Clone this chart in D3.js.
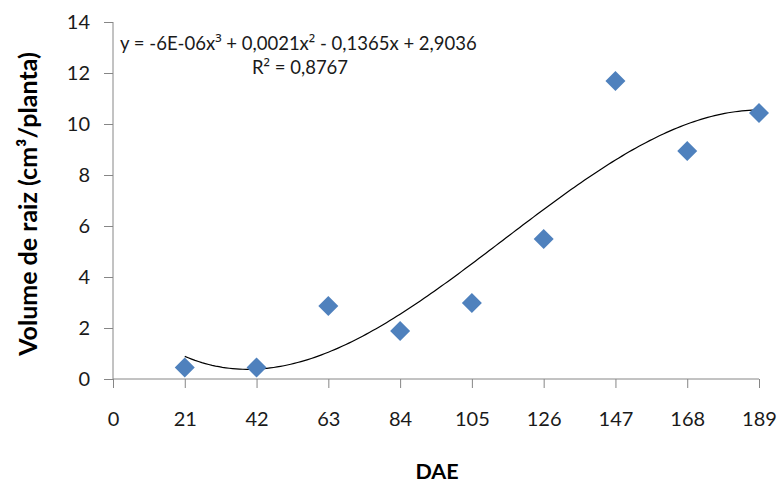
<!DOCTYPE html>
<html>
<head>
<meta charset="utf-8">
<script src="https://cdn.jsdelivr.net/npm/d3@7"></script>
<style>
  body { margin: 0; background: #fff; }
  text { font-family: Lato, "Open Sans", sans-serif; }
</style>
</head>
<body>
<div id="chart"></div>
<script>
// DAE (days) and root volume values
var dae = [21, 42, 63, 84, 105, 126, 147, 168, 189];
var volume = [0.45, 0.45, 2.86, 1.88, 2.98, 5.49, 11.69, 8.94, 10.43];
var xTicks = [0, 21, 42, 63, 84, 105, 126, 147, 168, 189];
var yTicks = [0, 2, 4, 6, 8, 10, 12, 14];
var equationText = "y = -6E-06x³ + 0,0021x² - 0,1365x + 2,9036";
var r2Text = "R² = 0,8767";

var width = 782, height = 486;
var svg = d3.select("#chart").append("svg")
    .attr("width", width)
    .attr("height", height);

var x = d3.scaleLinear().domain([0, 189]).range([113, 759]);
var y = d3.scaleLinear().domain([0, 14]).range([379, 22]);
var axisColor = "#868686";

// y axis
var yAxis = svg.append("g")
    .attr("transform", "translate(" + x(0) + ",0)")
    .call(d3.axisLeft(y).tickValues(yTicks).tickSize(9).tickPadding(14));
// x axis
var xAxis = svg.append("g")
    .attr("transform", "translate(0," + y(0) + ")")
    .call(d3.axisBottom(x).tickValues(xTicks).tickSize(9).tickPadding(24));

[yAxis, xAxis].forEach(function(a) {
  a.select(".domain").attr("stroke", axisColor).attr("stroke-width", 1);
  a.selectAll(".tick line").attr("stroke", axisColor);
  a.selectAll(".tick text")
    .attr("fill", "#1a1a1a")
    .style("font-size", "20px")
    .style("font-family", "Lato, 'Open Sans', sans-serif");
});
xAxis.select(".domain").attr("d", "M" + x(0) + ",0H" + x(189));
yAxis.select(".domain").attr("d", "M0," + y(0) + "V" + y(14));

// least squares cubic trend line
function polyfit(xs, ys, deg) {
  var n = deg + 1;
  var A = [], b = [];
  for (var i = 0; i < n; i++) {
    A.push([]);
    for (var j = 0; j < n; j++) A[i].push(d3.sum(xs, function(v) { return Math.pow(v, i + j); }));
    b.push(d3.sum(xs, function(v, k) { return Math.pow(v, i) * ys[k]; }));
  }
  for (var c = 0; c < n; c++) {
    var p = c;
    for (var r = c + 1; r < n; r++) if (Math.abs(A[r][c]) > Math.abs(A[p][c])) p = r;
    var t = A[c]; A[c] = A[p]; A[p] = t;
    var tb = b[c]; b[c] = b[p]; b[p] = tb;
    for (var r2 = c + 1; r2 < n; r2++) {
      var f = A[r2][c] / A[c][c];
      for (var k = c; k < n; k++) A[r2][k] -= f * A[c][k];
      b[r2] -= f * b[c];
    }
  }
  var coef = new Array(n);
  for (var i2 = n - 1; i2 >= 0; i2--) {
    var s = b[i2];
    for (var j2 = i2 + 1; j2 < n; j2++) s -= A[i2][j2] * coef[j2];
    coef[i2] = s / A[i2][i2];
  }
  return coef;
}
var coef = polyfit(dae, volume, 3);
function trend(v) { return coef[0] + coef[1] * v + coef[2] * v * v + coef[3] * v * v * v; }
var curveX = d3.range(21, 189.01, 1);

svg.append("path")
    .datum(curveX)
    .attr("fill", "none")
    .attr("stroke", "#000")
    .attr("stroke-width", 1.2)
    .attr("d", d3.line().x(function(d) { return x(d); }).y(function(d) { return y(trend(d)); }));

// diamond markers
svg.selectAll(".pt")
    .data(dae)
    .enter()
    .append("path")
    .attr("class", "pt")
    .attr("transform", function(d, i) { return "translate(" + x(d) + "," + y(volume[i]) + ")"; })
    .attr("d", "M0,-10L10,0L0,10L-10,0Z")
    .attr("fill", "#4F81BD");

// equation labels, superscript glyphs drawn a bit larger
function label(str, lx, ly) {
  var t = svg.append("text")
      .attr("x", lx).attr("y", ly)
      .style("font-size", "18.5px")
      .attr("fill", "#1a1a1a");
  str.split(/([²³])/).forEach(function(part) {
    if (!part) return;
    var sp = t.append("tspan").text(part);
    if (part === "²" || part === "³") sp.style("font-family", "'Open Sans', sans-serif");
  });
}
label(equationText, 120, 50);
label(r2Text, 252, 74);

// axis titles
svg.append("text")
    .attr("x", 437).attr("y", 479)
    .attr("text-anchor", "middle")
    .style("font-size", "21.5px")
    .style("font-weight", "bold")
    .text("DAE");
svg.append("text")
    .attr("transform", "translate(37,204) rotate(-90)")
    .attr("text-anchor", "middle")
    .style("font-size", "25px")
    .style("font-weight", "bold")
    .text("Volume de raiz (cm³/planta)");
</script>
</body>
</html>
